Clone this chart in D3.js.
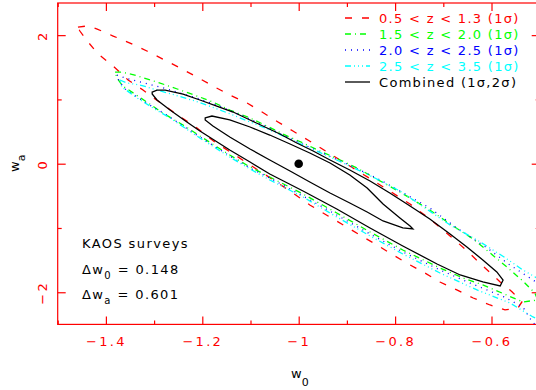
<!DOCTYPE html>
<html>
<head>
<meta charset="utf-8">
<script src="https://cdn.jsdelivr.net/npm/d3@7"></script>
<style>
  body { margin: 0; background: #fff; }
  svg { display: block; font-family: "DejaVu Sans", sans-serif; }
</style>
</head>
<body>
<svg id="chart" width="536" height="390"></svg>
<script>
// 1 sigma contours per redshift bin, [w0, wa]
const zBin1 = [[-1.458,2.126],[-1.439,2.142],[-1.418,2.095],[-1.385,1.986],[-1.350,1.877],[-1.315,1.753],[-1.282,1.628],[-1.246,1.488],[-1.211,1.348],[-1.174,1.193],[-1.143,1.068],[-1.107,0.944],[-1.076,0.804],[-1.043,0.649],[-1.012,0.509],[-0.981,0.369],[-0.931,0.135],[-0.894,-0.036],[-0.831,-0.331],[-0.769,-0.627],[-0.728,-0.860],[-0.686,-1.124],[-0.655,-1.327],[-0.618,-1.591],[-0.582,-1.840],[-0.557,-1.995],[-0.537,-2.151],[-0.545,-2.244],[-0.572,-2.275],[-0.603,-2.198],[-0.638,-2.089],[-0.672,-1.964],[-0.707,-1.840],[-0.738,-1.700],[-0.769,-1.575],[-0.804,-1.420],[-0.838,-1.264],[-0.873,-1.109],[-0.904,-0.969],[-0.939,-0.813],[-0.977,-0.642],[-1.012,-0.456],[-1.049,-0.269],[-1.091,-0.067],[-1.132,0.135],[-1.174,0.337],[-1.211,0.555],[-1.257,0.788],[-1.292,0.975],[-1.323,1.146],[-1.354,1.302],[-1.385,1.519],[-1.416,1.706],[-1.437,1.893],[-1.454,2.064]];

const zBin2 = [[-1.381,1.426],[-1.367,1.426],[-1.340,1.379],[-1.294,1.271],[-1.252,1.162],[-1.211,1.053],[-1.178,0.960],[-1.143,0.835],[-1.101,0.711],[-1.066,0.586],[-1.033,0.462],[-0.991,0.322],[-0.956,0.198],[-0.914,0.058],[-0.879,-0.067],[-0.846,-0.207],[-0.790,-0.440],[-0.728,-0.720],[-0.686,-0.938],[-0.638,-1.171],[-0.603,-1.389],[-0.568,-1.607],[-0.535,-1.824],[-0.510,-2.011],[-0.504,-2.120],[-0.535,-2.151],[-0.574,-2.026],[-0.618,-1.886],[-0.659,-1.778],[-0.707,-1.622],[-0.784,-1.342],[-0.852,-1.062],[-0.921,-0.767],[-0.991,-0.471],[-1.060,-0.207],[-1.101,-0.051],[-1.143,0.135],[-1.205,0.431],[-1.240,0.602],[-1.282,0.788],[-1.309,0.928],[-1.340,1.084],[-1.365,1.208],[-1.377,1.333]];

const zBin3 = [[-1.377,1.379],[-1.360,1.333],[-1.335,1.286],[-1.304,1.224],[-1.273,1.162],[-1.240,1.084],[-1.205,1.006],[-1.170,0.913],[-1.136,0.804],[-1.101,0.695],[-1.066,0.571],[-1.033,0.446],[-0.997,0.322],[-0.956,0.182],[-0.914,0.042],[-0.873,-0.098],[-0.831,-0.253],[-0.790,-0.425],[-0.728,-0.689],[-0.672,-1.000],[-0.609,-1.311],[-0.562,-1.575],[-0.514,-1.809],[-0.495,-1.902],[-0.489,-2.586],[-0.514,-2.477],[-0.535,-2.229],[-0.574,-2.073],[-0.645,-1.855],[-0.707,-1.653],[-0.784,-1.373],[-0.852,-1.093],[-0.921,-0.798],[-0.991,-0.502],[-1.060,-0.222],[-1.101,-0.067],[-1.143,0.120],[-1.205,0.415],[-1.240,0.586],[-1.277,0.773],[-1.309,0.913],[-1.335,1.037],[-1.360,1.162],[-1.373,1.286]];

const zBin4 = [[-1.371,1.302],[-1.356,1.255],[-1.329,1.224],[-1.294,1.146],[-1.257,1.068],[-1.215,0.975],[-1.174,0.866],[-1.136,0.757],[-1.101,0.649],[-1.060,0.524],[-1.018,0.384],[-0.977,0.244],[-0.935,0.104],[-0.894,-0.036],[-0.842,-0.222],[-0.790,-0.425],[-0.738,-0.689],[-0.686,-0.953],[-0.630,-1.187],[-0.574,-1.451],[-0.535,-1.653],[-0.499,-1.809],[-0.489,-1.824],[-0.489,-2.462],[-0.514,-2.384],[-0.562,-2.166],[-0.630,-1.964],[-0.707,-1.700],[-0.784,-1.404],[-0.852,-1.124],[-0.921,-0.829],[-0.991,-0.518],[-1.060,-0.253],[-1.101,-0.082],[-1.143,0.104],[-1.205,0.400],[-1.267,0.711],[-1.302,0.866],[-1.335,1.022],[-1.367,1.193]];

// combined contours
const combined1s = [[-1.194,0.711],[-1.180,0.742],[-1.143,0.680],[-1.101,0.571],[-1.060,0.446],[-1.018,0.306],[-0.977,0.166],[-0.935,0.011],[-0.894,-0.176],[-0.858,-0.378],[-0.825,-0.627],[-0.790,-0.844],[-0.769,-0.969],[-0.763,-1.016],[-0.784,-1.000],[-0.825,-0.891],[-0.858,-0.751],[-0.894,-0.611],[-0.935,-0.456],[-0.977,-0.285],[-1.018,-0.114],[-1.060,0.058],[-1.101,0.229],[-1.143,0.415],[-1.178,0.586],[-1.194,0.680]];

const combined2s = [[-1.304,1.115],[-1.294,1.146],[-1.277,1.146],[-1.240,1.084],[-1.205,0.991],[-1.170,0.897],[-1.136,0.804],[-1.101,0.680],[-1.070,0.571],[-1.039,0.462],[-1.004,0.322],[-0.970,0.198],[-0.935,0.058],[-0.894,-0.098],[-0.852,-0.269],[-0.811,-0.456],[-0.769,-0.658],[-0.728,-0.860],[-0.686,-1.093],[-0.651,-1.295],[-0.618,-1.498],[-0.589,-1.684],[-0.576,-1.809],[-0.582,-1.902],[-0.618,-1.840],[-0.665,-1.731],[-0.713,-1.560],[-0.784,-1.280],[-0.852,-1.000],[-0.921,-0.705],[-0.991,-0.425],[-1.060,-0.160],[-1.101,0.026],[-1.143,0.213],[-1.205,0.509],[-1.232,0.649],[-1.267,0.835],[-1.294,0.991],[-1.304,1.084]];

const fiducial = [-1.0, 0.0];

const legendLabels = ["0.5 < z < 1.3 (1σ)", "1.5 < z < 2.0 (1σ)", "2.0 < z < 2.5 (1σ)", "2.5 < z < 3.5 (1σ)", "Combined (1σ,2σ)"];

const xMajor = [-1.4, -1.2, -1.0, -0.8, -0.6];
const xTickLabels = ["−1.4", "−1.2", "−1", "−0.8", "−0.6"];
const xMinor = [-1.5, -1.3, -1.1, -0.9, -0.7, -0.5];
const yMajor = [-2, 0, 2];
const yTickLabels = ["−2", "0", "2"];
const yMinor = [-1, 1];

const surveyName = "KAOS surveys";
const deltaW0 = "0.148";
const deltaWa = "0.601";

const svg = d3.select("#chart");
const red = "#ff0000";

const x = d3.scaleLinear().domain([-1.5, -0.5]).range([57.7, 539.7]);
const y = d3.scaleLinear().domain([-2.5, 2.5]).range([324.4, 3]);

svg.append("clipPath").attr("id", "plotclip")
    .append("rect")
    .attr("x", x(-1.5)).attr("y", y(2.5))
    .attr("width", x(-0.5) - x(-1.5)).attr("height", y(-2.5) - y(2.5));

// axes: major ticks 8px, minor 4px, all pointing inward
function drawAxis(gen, tr, values, len, labels) {
    const a = gen.tickValues(values).tickSizeInner(-len).tickSizeOuter(0);
    a.tickFormat(labels ? (d, i) => labels[i] : "");
    const g = svg.append("g").attr("transform", tr).call(a);
    g.select(".domain").remove();
    g.selectAll(".tick line").attr("stroke", red).attr("stroke-width", 1.2);
    g.selectAll(".tick text").attr("fill", red).style("font-size", "13px")
        .style("font-family", "'DejaVu Sans', sans-serif");
    return g;
}

const bottomY = y(-2.5), topY = y(2.5), leftX = x(-1.5), rightX = x(-0.5);

const gb = drawAxis(d3.axisBottom(x).tickPadding(12), `translate(0,${bottomY})`, xMajor, 8, xTickLabels);
gb.selectAll(".tick text").style("letter-spacing", "2.3px");
drawAxis(d3.axisBottom(x), `translate(0,${bottomY})`, xMinor, 4, null);
drawAxis(d3.axisTop(x), `translate(0,${topY})`, xMajor, 8, null);
drawAxis(d3.axisTop(x), `translate(0,${topY})`, xMinor, 4, null);

const gl = drawAxis(d3.axisLeft(y), `translate(${leftX},0)`, yMajor, 8, yTickLabels);
gl.selectAll(".tick text")
    .attr("x", 0).attr("dy", null).attr("y", 0)
    .attr("text-anchor", "middle")
    .attr("transform", "translate(-11,0) rotate(-90)")
    .style("letter-spacing", "2.3px");
drawAxis(d3.axisLeft(y), `translate(${leftX},0)`, yMinor, 4, null);
drawAxis(d3.axisRight(y), `translate(${rightX},0)`, yMajor, 8, null);
drawAxis(d3.axisRight(y), `translate(${rightX},0)`, yMinor, 4, null);

// frame
svg.append("rect")
    .attr("x", leftX).attr("y", topY)
    .attr("width", rightX - leftX).attr("height", bottomY - topY)
    .attr("fill", "none").attr("stroke", red).attr("stroke-width", 1.2);

// contours
const line = d3.line()
    .x(d => x(d[0]))
    .y(d => y(d[1]))
    .curve(d3.curveLinearClosed);

const series = [
    {data: zBin1, color: "#ff0000", dash: "7,10"},
    {data: zBin2, color: "#00ff00", dash: "6,4,1,4"},
    {data: zBin3, color: "#0000ff", dash: "1,5"},
    {data: zBin4, color: "#00ffff", dash: "6,3,1,3,1,3,1,3"},
    {data: combined2s, color: "#000000", dash: null},
    {data: combined1s, color: "#000000", dash: null}
];

const plot = svg.append("g").attr("clip-path", "url(#plotclip)");
plot.selectAll("path.contour")
    .data(series)
    .enter().append("path")
    .attr("class", "contour")
    .attr("d", d => line(d.data))
    .attr("fill", "none")
    .attr("stroke", d => d.color)
    .attr("stroke-width", 1.3)
    .attr("stroke-dasharray", d => d.dash);

plot.append("circle")
    .attr("cx", x(fiducial[0])).attr("cy", y(fiducial[1]))
    .attr("r", 4.3).attr("fill", "#000");

// legend
const legend = svg.append("g").attr("transform", "translate(345,18)");
const legendItems = series.slice(0, 5).map((s, i) => ({label: legendLabels[i], color: s.color, dash: s.dash}));
const li = legend.selectAll("g.item")
    .data(legendItems)
    .enter().append("g")
    .attr("class", "item")
    .attr("transform", (d, i) => `translate(0,${i * 16})`);
li.append("line")
    .attr("x1", 0).attr("x2", 25).attr("y1", 0).attr("y2", 0)
    .attr("stroke", d => d.color).attr("stroke-width", 1.3)
    .attr("stroke-dasharray", d => d.dash);
li.append("text")
    .attr("x", 34).attr("y", 4.7)
    .attr("fill", d => d.color)
    .style("font-size", "13px")
    .style("letter-spacing", "1.3px")
    .text(d => d.label);

// annotation
const note = svg.append("g").attr("transform", "translate(82,0)")
    .style("font-size", "13px").style("letter-spacing", "1.4px").attr("fill", "#000");
note.append("text").attr("y", 248.3).text(surveyName);
const t1 = note.append("text").attr("y", 274);
t1.append("tspan").text("Δw");
t1.append("tspan").attr("dy", 5).style("font-size", "10px").text("0");
t1.append("tspan").attr("dy", -5).text(" = " + deltaW0);
const t2 = note.append("text").attr("y", 299.3);
t2.append("tspan").text("Δw");
t2.append("tspan").attr("dy", 5).style("font-size", "10px").text("a");
t2.append("tspan").attr("dy", -5).text(" = " + deltaWa);

// axis titles
const xt = svg.append("text").attr("x", 291).attr("y", 377.5)
    .style("font-size", "13px").attr("fill", "#000");
xt.append("tspan").text("w");
xt.append("tspan").attr("dy", 8).style("font-size", "11px").text("0");

const yt = svg.append("text")
    .attr("transform", "translate(19,172) rotate(-90)")
    .style("font-size", "13px").attr("fill", "#000");
yt.append("tspan").text("w");
yt.append("tspan").attr("dy", 6).style("font-size", "11px").text("a");
</script>
</body>
</html>
